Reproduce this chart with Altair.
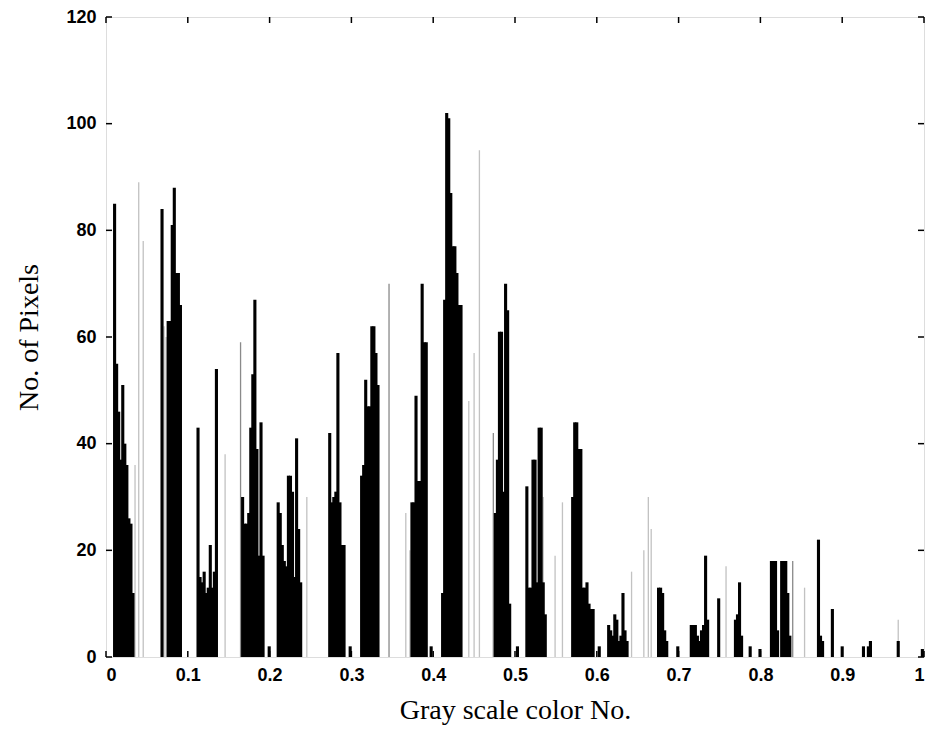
import altair as alt
import pandas as pd

# Histogram: each cluster = first bin centre + counts of consecutive bins
BIN_STEP = 0.0025
black_starts = [0.0105, 0.0685, 0.0760, 0.1125, 0.1670, 0.2105, 0.2735, 0.3125, 0.3740,
                0.4115, 0.4760, 0.5145, 0.5705, 0.6145, 0.6755, 0.7155, 0.7695, 0.8135, 0.8710]
black_counts = [
    [85, 55, 46, 37, 51, 40, 36, 26, 25, 12],
    [84],
    [63, 63, 81, 88, 72, 72, 66],
    [43, 15, 14, 16, 12, 13, 21, 13, 16, 54],
    [30, 25, 25, 27, 43, 53, 67, 39, 19, 44, 19],
    [29, 27, 21, 18, 17, 34, 34, 31, 15, 41, 24, 14],
    [42, 29, 30, 31, 57, 29, 21, 21],
    [34, 36, 52, 47, 47, 62, 62, 57, 51],
    [29, 29, 49, 33, 33, 70, 59, 59],
    [12, 67, 102, 101, 87, 77, 77, 72, 66, 66],
    [27, 37, 61, 61, 31, 70, 65, 10],
    [32, 13, 13, 37, 37, 14, 43, 43, 14, 8],
    [30, 44, 44, 39, 39, 13, 13, 14, 10, 9, 9],
    [6, 5, 4, 8, 7, 3, 4, 12, 5, 3],
    [13, 13, 12, 5, 3],
    [6, 6, 6, 4, 3, 5, 6, 19, 7],
    [7, 8, 14, 4],
    [18, 18, 18, 5, 0, 18, 18, 18, 12, 4],
    [22, 4, 3],
]
single_x = [0.1995, 0.2985, 0.3975, 0.5030, 0.6030, 0.6990, 0.7490, 0.7875, 0.7995,
            0.8880, 0.9000, 0.9260, 0.9320, 0.9345, 0.9685, 0.9980]
single_counts = [2, 2, 2, 2, 2, 2, 11, 2, 1.5, 9, 2, 2, 2, 3, 3, 1.5]

dark_x = [0.1645, 0.3460, 0.4735, 0.8395]
dark_counts = [59, 70, 42, 18]
light_x = [0.0355, 0.0400, 0.0455, 0.0710, 0.0735, 0.1456, 0.2455, 0.3665, 0.3715,
           0.4435, 0.4500, 0.4565, 0.5345, 0.5490, 0.5580, 0.6425, 0.6575, 0.6630,
           0.6665, 0.7580, 0.8540, 0.9685]
light_counts = [36, 89, 78, 62, 60, 38, 30, 27, 20, 48, 57, 95, 30, 19, 29, 16, 20, 30,
                24, 17, 13, 7]

y_ticks = [0, 20, 40, 60, 80, 100, 120]
x_ticks = [0, 0.1, 0.2, 0.3, 0.4, 0.5, 0.6, 0.7, 0.8, 0.9, 1.0]

rows = []
for s, cs in zip(black_starts, black_counts):
    for i, c in enumerate(cs):
        if c > 0:
            rows.append({"x": s + i * BIN_STEP, "count": c, "kind": "black"})
for x, c in zip(single_x, single_counts):
    rows.append({"x": x, "count": c, "kind": "black"})
gray_rows = []
for x, c in zip(dark_x, dark_counts):
    gray_rows.append({"x": x, "count": c, "kind": "dark"})
for x, c in zip(light_x, light_counts):
    gray_rows.append({"x": x, "count": c, "kind": "light"})

df_black = pd.DataFrame(rows)
df_gray = pd.DataFrame(gray_rows)
df_black["x0"] = df_black["x"] - 0.0019
df_black["x1"] = df_black["x"] + 0.0019
df_gray["x0"] = df_gray["x"] - 0.0008
df_gray["x1"] = df_gray["x"] + 0.0008

W, H = 818, 640
xs = alt.Scale(domain=[0, 1], nice=False, zero=False)
ys = alt.Scale(domain=[0, 120], nice=False)
color = alt.Color("kind:N", scale=alt.Scale(domain=["black", "dark", "light"],
                                             range=["#000000", "#8a8a8a", "#c2c2c2"]), legend=None)

x_axis = alt.Axis(values=x_ticks, format="~g", ticks=False, domain=False, grid=False,
                  labelFont="Liberation Sans", labelFontSize=18, labelFontWeight="bold",
                  labelColor="black", labelPadding=9, title="Gray scale color No.",
                  titleFont="Liberation Serif", titleFontSize=28, titleFontWeight="normal",
                  titleColor="black", titlePadding=12)
y_axis = alt.Axis(values=y_ticks, ticks=False, domain=False, grid=False,
                  labelFont="Liberation Sans", labelFontSize=18, labelFontWeight="bold",
                  labelColor="black", labelPadding=10, title="No. of Pixels",
                  titleFont="Liberation Serif", titleFontSize=28, titleFontWeight="normal",
                  titleColor="black", titlePadding=22)

gray = alt.Chart(df_gray).mark_bar(strokeWidth=0).encode(
    x=alt.X("x0:Q", scale=xs, axis=x_axis),
    x2="x1:Q",
    y=alt.Y("count:Q", scale=ys, axis=y_axis),
    y2=alt.datum(0),
    color=color,
)
black = alt.Chart(df_black).mark_bar(strokeWidth=0, color="black").encode(
    x=alt.X("x0:Q", scale=xs),
    x2="x1:Q",
    y=alt.Y("count:Q", scale=ys),
    y2=alt.datum(0),
)

df_yt = pd.DataFrame({"v": y_ticks})
df_xt = pd.DataFrame({"v": x_ticks})
tick_l = alt.Chart(df_yt).mark_rule(color="black", strokeWidth=1.5).encode(
    y=alt.Y("v:Q", scale=ys), x=alt.value(0), x2=alt.value(6))
tick_r = alt.Chart(df_yt).mark_rule(color="black", strokeWidth=1.5).encode(
    y=alt.Y("v:Q", scale=ys), x=alt.value(W - 6), x2=alt.value(W))
tick_b = alt.Chart(df_xt).mark_rule(color="black", strokeWidth=1.5).encode(
    x=alt.X("v:Q", scale=xs), y=alt.value(H), y2=alt.value(H - 6))
tick_t = alt.Chart(df_xt).mark_rule(color="black", strokeWidth=1.5).encode(
    x=alt.X("v:Q", scale=xs), y=alt.value(0), y2=alt.value(6))

chart = alt.layer(gray, black, tick_l, tick_r, tick_b, tick_t).properties(
    width=W, height=H,
    autosize=alt.AutoSizeParams(type="none"),
    padding={"left": 98, "top": 9, "right": 3, "bottom": 84},
).configure_view(stroke="black", strokeWidth=1.5).configure(background="white")

chart.save("out.html", embed_options={"renderer": "svg", "actions": False})
